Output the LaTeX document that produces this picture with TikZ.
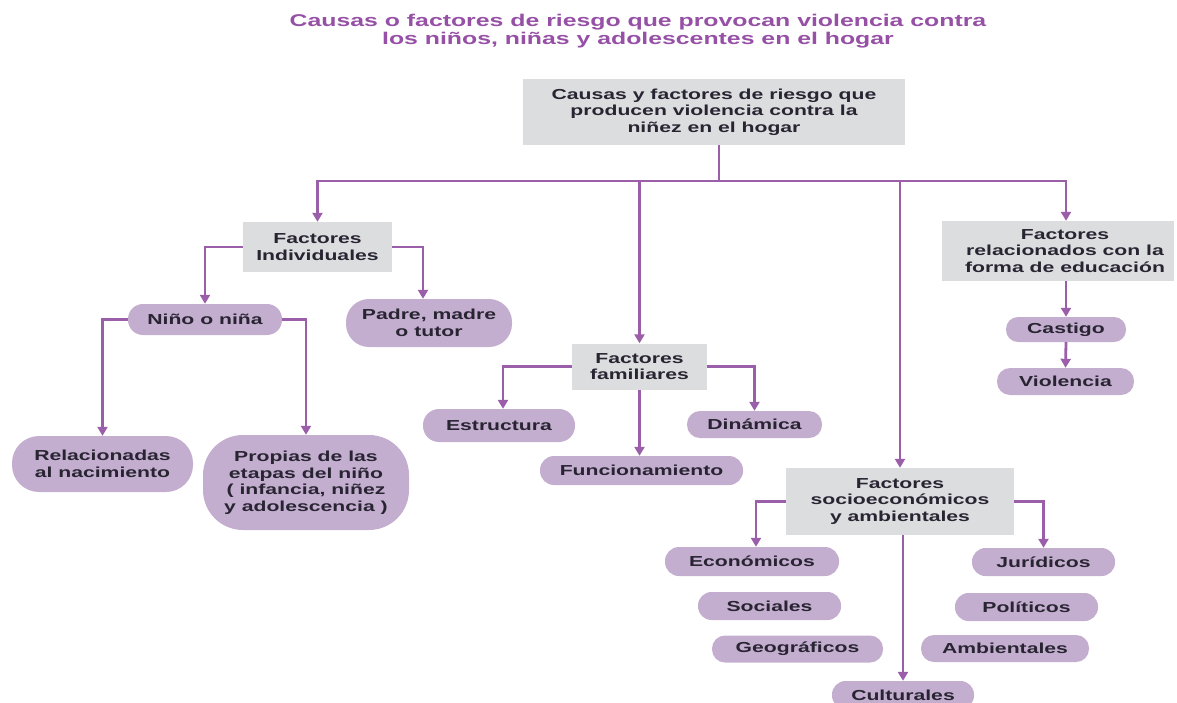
\documentclass[tikz,border=0pt]{standalone}
\usepackage{fontspec}
\setmainfont{Liberation Sans}[FakeStretch=1.46]
\usetikzlibrary{arrows.meta}
\definecolor{linec}{RGB}{155,95,170}
\definecolor{titlec}{RGB}{150,80,165}
\definecolor{pillc}{RGB}{196,174,208}
\definecolor{boxc}{RGB}{220,221,223}
\definecolor{txtc}{RGB}{40,36,50}
\begin{document}
\begin{tikzpicture}[x=1pt,y=-1pt,
  every node/.style={font=\fontsize{14.5}{16.5}\selectfont\bfseries, text=txtc, align=center, inner sep=0pt},
  gbox/.style 2 args={fill=boxc, minimum width=#1, minimum height=#2},
  pill/.style n args={3}{fill=pillc, rounded corners=#3, minimum width=#1, minimum height=#2},
  conn/.style={draw=linec, line width=2.8pt},
  arr/.style={conn, -{Triangle[width=10pt,length=9pt]}}]
\path[use as bounding box] (0,0) rectangle (1177,702);
\clip (0,0) rectangle (1177,702);

\node[font=\fontsize{17}{18}\selectfont\bfseries, text=titlec] (title) at (638,31) {Causas o factores de riesgo que provocan violencia contra\\los niños, niñas y adolescentes en el hogar};

\node[gbox={382}{66}] (top) at (714,112) {Causas y factores de riesgo que\\producen violencia contra la\\niñez en el hogar};
\node[gbox={149}{50}] (fi) at (317.5,247) {Factores\\Individuales};
\node[gbox={135}{46}] (ff) at (639.5,366.5) {Factores\\familiares};
\node[gbox={228}{67}] (fs) at (900,501.5) {Factores\\socioeconómicos\\y ambientales};
\node[gbox={232}{60}, label={[xshift=7pt]center:Factores\\relacionados con la\\forma de educación}] (fr) at (1058,251) {};

\node[pill={154}{31}{15}] (nino) at (205,319.5) {Niño o niña};
\node[pill={166}{48}{23}] (padre) at (429,323) {Padre, madre\\o tutor};
\node[pill={181}{56}{27}] (rel) at (102.5,464) {Relacionadas\\al nacimiento};
\node[pill={206}{95}{40}] (prop) at (306,482.5) {Propias de las\\etapas del niño\\( infancia, niñez\\y adolescencia )};
\node[pill={152}{33}{16}] (estr) at (499,425.5) {Estructura};
\node[pill={135}{27}{13}] (din) at (754.5,424.5) {Dinámica};
\node[pill={203}{29}{14}] (func) at (641.5,470.5) {Funcionamiento};
\node[pill={174}{29}{14}] (econ) at (752,561.5) {Económicos};
\node[pill={143}{28}{13.5}] (soc) at (769.5,606) {Sociales};
\node[pill={171}{27}{13}] (geo) at (797.5,649) {Geográficos};
\node[pill={143}{28}{13.5}] (jur) at (1043.5,562) {Jurídicos};
\node[pill={143}{28}{13.5}] (pol) at (1026.5,607) {Políticos};
\node[pill={168}{27}{13}] (amb) at (1005,648.5) {Ambientales};
\node[pill={142}{28}{13.5}] (cult) at (903,695) {Culturales};
\node[pill={120}{25}{12}] (cast) at (1066,329.5) {Castigo};
\node[pill={137}{27}{13}] (viol) at (1065.5,381.5) {Violencia};

\coordinate (trunk) at (719,181);
\draw[conn] (top.south -| trunk) -- (trunk);
\draw[arr] (trunk) -| (fi.north);
\draw[arr] (trunk) -| (ff.north);
\draw[arr] (trunk) -| (fs.north);
\draw[arr] (trunk) -| (cast.north |- fr.north);

\draw[arr] (fi.west) -| (nino.north);
\draw[arr] (fi.east) -| ([xshift=-6pt]padre.north);
\draw[arr] (nino.west) -| (rel.north);
\draw[arr] (nino.east) -| (prop.north);
\draw[arr] (ff.west) -| ([xshift=4pt]estr.north);
\draw[arr] (ff.east) -| (din.north);
\draw[arr] (ff.south) -- (ff.south |- func.north);
\draw[arr] (fs.west) -| ([xshift=4pt]econ.north);
\draw[arr] (fs.east) -| (jur.north);
\draw[arr] (fs.south -| cult.north) -- (cult.north);
\draw[arr] (cast.north |- fr.south) -- (cast.north);
\draw[arr] (cast.south) -- (viol.north);
\end{tikzpicture}
\end{document}
